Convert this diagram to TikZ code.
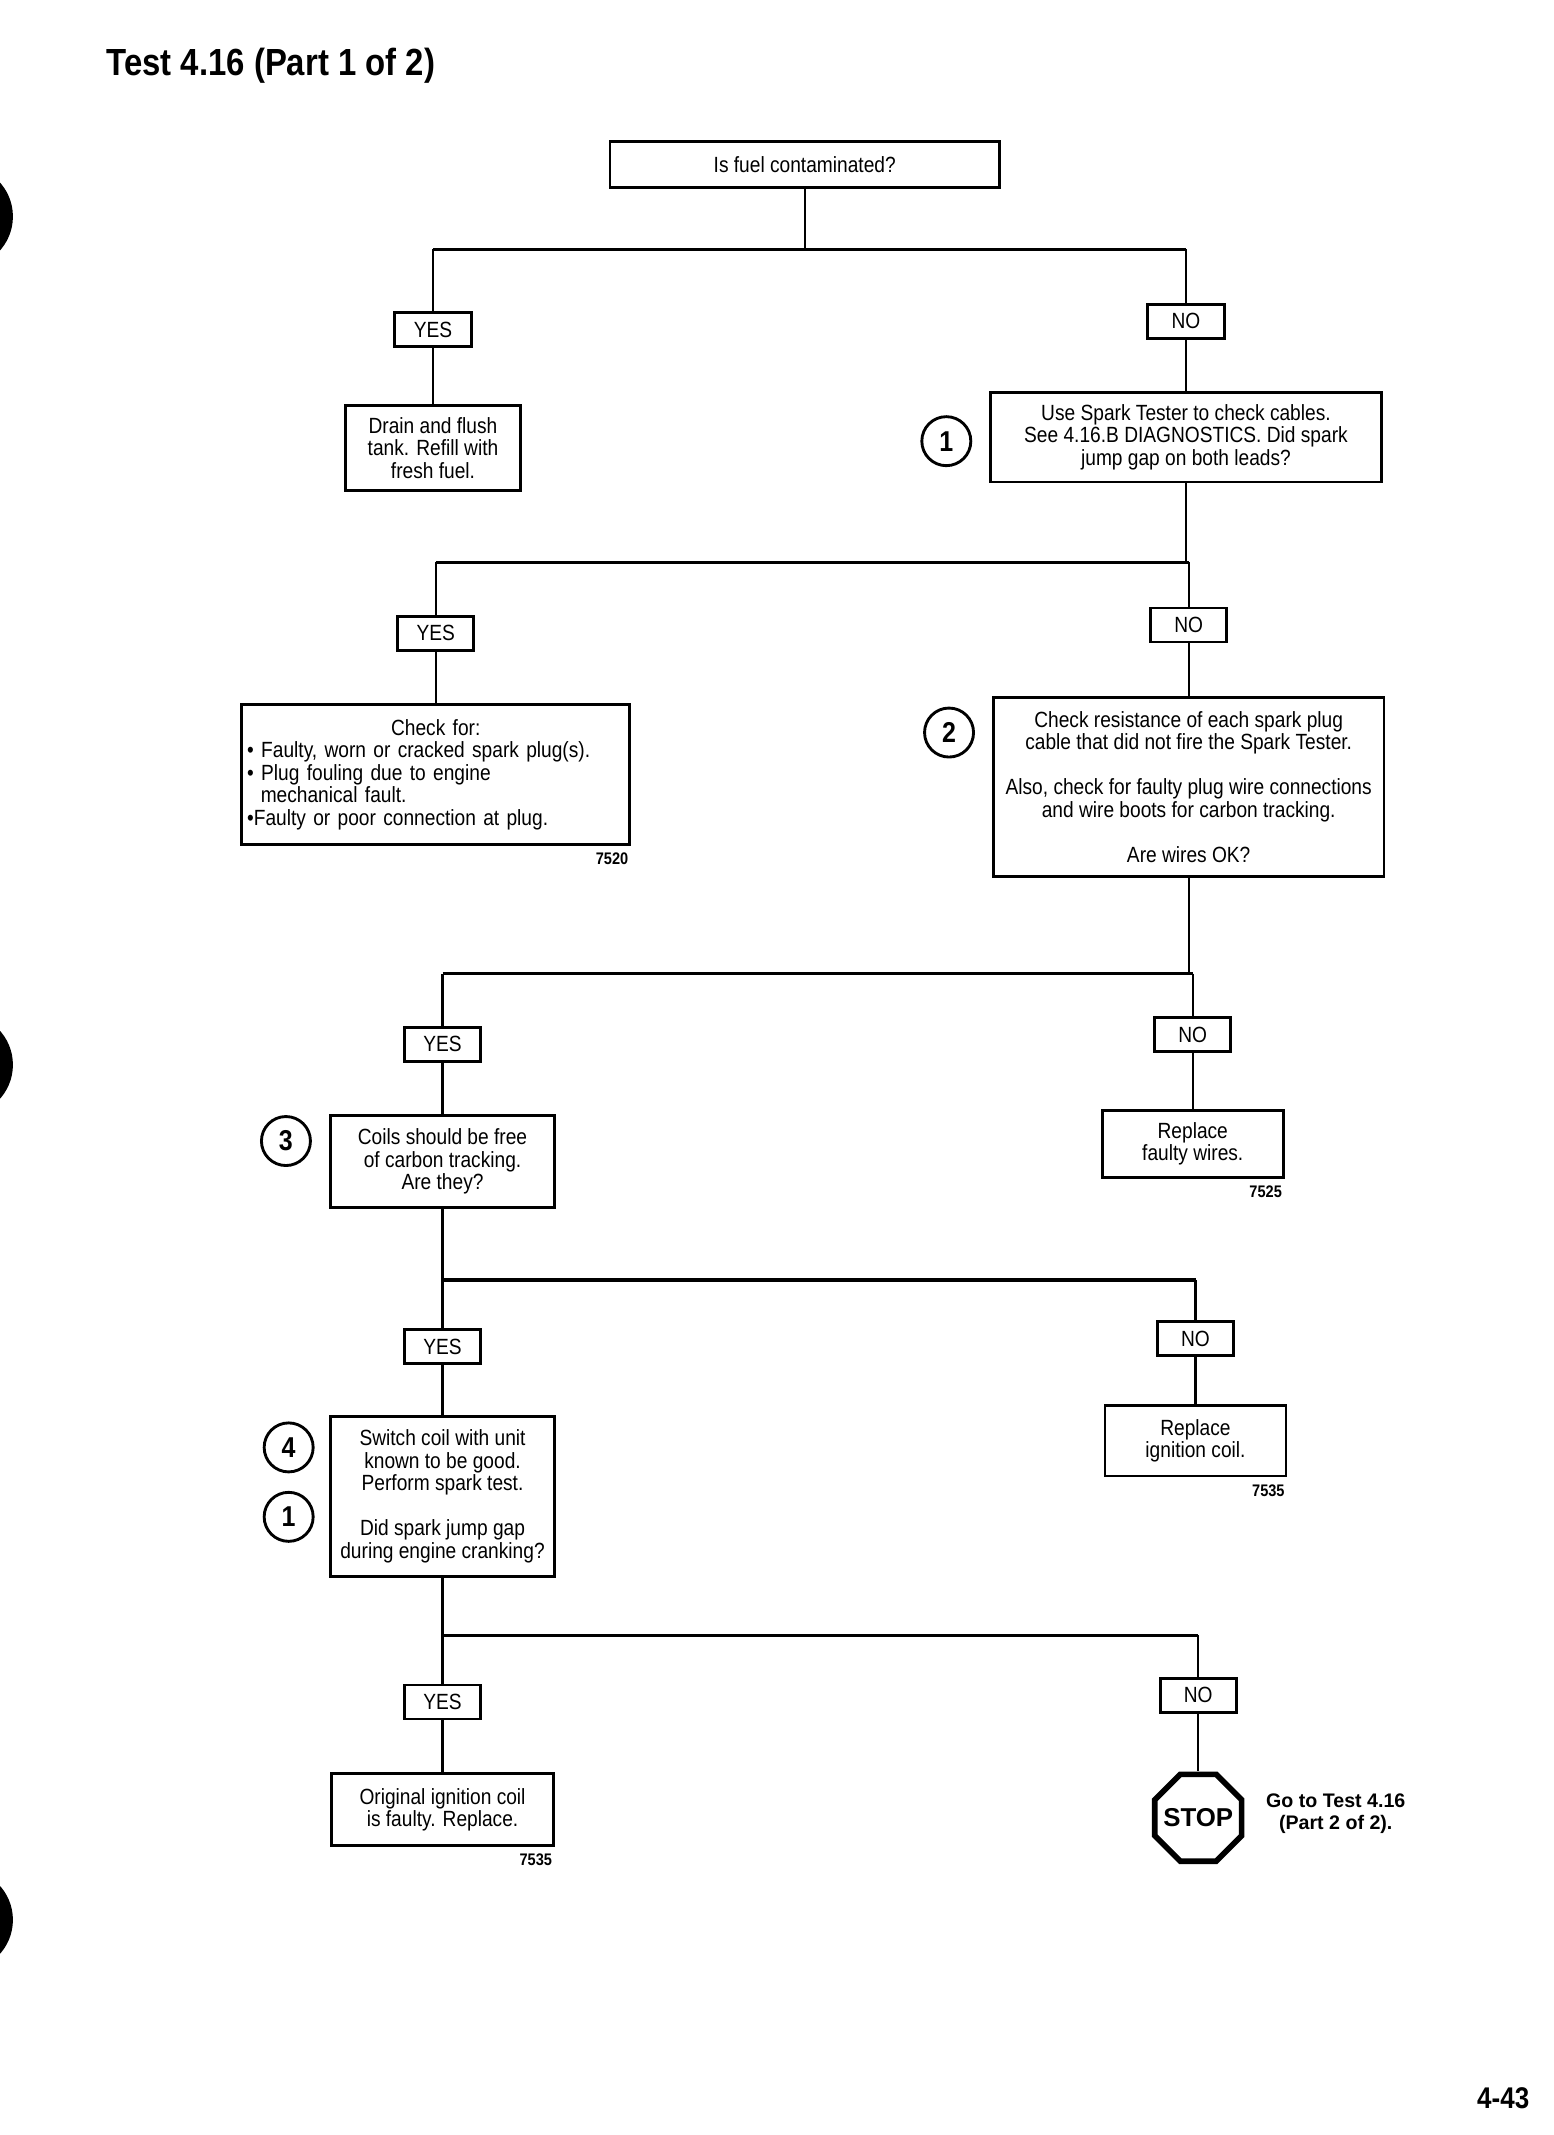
\documentclass[tikz,border=0pt]{standalone}
\usepackage{fontspec}
\setmainfont{Liberation Sans}[FakeStretch=0.87]
\newfontfamily\stopfont{Liberation Sans}
\usetikzlibrary{shapes.geometric}

\begin{document}
\begin{tikzpicture}[x=0.02cm,y=-0.02cm,font=\fontsize{9.2}{9.4}\selectfont,
    box/.style={draw,line width=1.2pt,align=center,inner sep=1pt},
    answer/.style={box,minimum width=1.12cm,minimum height=0.5cm},
    num/.style={circle,draw,line width=1.2pt,minimum size=0.72cm,inner sep=0pt,
      font=\fontsize{12}{12}\selectfont\bfseries},
    tag/.style={anchor=north east,inner sep=1pt,font=\fontsize{7}{7}\selectfont\bfseries},
    stopsign/.style={regular polygon,regular polygon sides=8,draw,line width=2.4pt,
      minimum size=1.38cm,inner sep=0pt},
    link/.style={line width=0.9pt},
    bus/.style={line width=1.4pt}]
        % page frame and the binder holes on the left edge
        \fill[white] (0,0) rectangle (1141,1568);
        \useasboundingbox (0,0) rectangle (1141,1568);
        \begin{scope}
          \clip (0,0) rectangle (1141,1568);
          \foreach \hy in {159,782,1410}
            \fill (-28,\hy) circle (0.75cm);
        \end{scope}
        \node[anchor=west,inner sep=0pt,font=\fontsize{15.8}{16}\selectfont\bfseries] (title) at (78,48) {Test 4.16 (Part 1 of 2)};

        % level 1
        \node[box,minimum width=5.72cm,minimum height=0.68cm] (fuel) at (591,121) {Is fuel contaminated?};
        \coordinate (j1) at (591,183);
        \node[answer] (yes1) at (318,242) {YES};
        \node[answer] (no1) at (871,236) {NO};
        \node[box,minimum width=2.58cm,minimum height=1.26cm] (drain) at (318,329) {Drain and flush\\tank. Refill with\\fresh fuel.};
        \node[box,minimum width=5.74cm,minimum height=1.32cm] (spark) at (871,321) {Use Spark Tester to check cables.\\See 4.16.B DIAGNOSTICS. Did spark\\jump gap on both leads?};
        \node[num] (c1) at (695,324) {1};
        \draw[link] (fuel) -- (j1);
        \draw[bus] (yes1 |- j1) -- (no1 |- j1);
        \draw[link] (yes1 |- j1) -- (yes1);
        \draw[link] (no1 |- j1) -- (no1);
        \draw[link] (yes1) -- (drain);
        \draw[link] (no1) -- (spark);

        % level 2
        \coordinate (j2) at (871,413);
        \node[answer] (yes2) at (320,465) {YES};
        \node[answer] (no2) at (873,459) {NO};
        \node[box,minimum width=5.70cm,minimum height=2.06cm,inner xsep=0.08cm,text width=5.54cm,align=left] (plugs) at (320,569)
          {\makebox[\hsize]{Check for:}\\
           \textbullet\ Faulty, worn or cracked spark plug(s).\\
           \textbullet\ Plug fouling due to engine\\
           \hspace*{0.2cm}mechanical fault.\\
           \textbullet Faulty or poor connection at plug.};
        \node[tag] (t7520) at ([yshift=-0.06cm]plugs.south east) {7520};
        \node[box,minimum width=5.74cm,minimum height=2.64cm] (resist) at (873,578)
          {Check resistance of each spark plug\\cable that did not fire the Spark Tester.\\[9.4pt]
           Also, check for faulty plug wire connections\\and wire boots for carbon tracking.\\[9.4pt]Are wires OK?};
        \node[num] (c2) at (697,538) {2};
        \draw[link] (spark) -- (j2);
        \draw[bus] (yes2 |- j2) -- (no2 |- j2);
        \draw[link] (yes2 |- j2) -- (yes2);
        \draw[link] (no2 |- j2) -- (no2);
        \draw[link] (yes2) -- (plugs);
        \draw[link] (no2) -- (resist);

        % level 3
        \coordinate (j3) at (873,715);
        \node[answer] (yes3) at (325,767) {YES};
        \node[answer] (no3) at (876,760) {NO};
        \node[box,minimum width=3.28cm,minimum height=1.34cm] (carbon) at (325,853) {Coils should be free\\of carbon tracking.\\Are they?};
        \node[num] (c3) at (210,838) {3};
        \node[box,minimum width=2.66cm,minimum height=0.98cm] (wires) at (876,840) {Replace\\faulty wires.};
        \node[tag] (t7525) at ([yshift=-0.06cm]wires.south east) {7525};
        \draw[link] (resist) -- (j3);
        \draw[bus] (yes3 |- j3) -- (no3 |- j3);
        \draw[link] (yes3 |- j3) -- (yes3);
        \draw[link] (no3 |- j3) -- (no3);
        \draw[link] (yes3) -- (carbon);
        \draw[link] (no3) -- (wires);

        % level 4
        \coordinate (j4) at (325,940);
        \node[answer] (yes4) at (325,989) {YES};
        \node[answer] (no4) at (878,983) {NO};
        \node[box,minimum width=3.28cm,minimum height=2.36cm] (swap) at (325,1099)
          {Switch coil with unit\\known to be good.\\Perform spark test.\\[9.4pt]Did spark jump gap\\during engine cranking?};
        \node[num] (c4) at (212,1063) {4};
        \node[num] (c1b) at (212,1114) {1};
        \node[box,minimum width=2.66cm,minimum height=1.04cm] (coil) at (878,1058) {Replace\\ignition coil.};
        \node[tag] (t7535a) at ([yshift=-0.06cm]coil.south east) {7535};
        \draw[link] (carbon) -- (j4);
        \draw[bus] (j4) -- (no4 |- j4);
        \draw[link] (no4 |- j4) -- (no4);
        \draw[link] (j4) -- (yes4);
        \draw[link] (yes4) -- (swap);
        \draw[link] (no4) -- (coil);

        % level 5
        \coordinate (j5) at (325,1201);
        \node[answer] (yes5) at (325,1250) {YES};
        \node[answer] (no5) at (880,1245) {NO};
        \node[box,minimum width=3.26cm,minimum height=1.06cm] (orig) at (325,1329) {Original ignition coil\\is faulty. Replace.};
        \node[tag] (t7535b) at ([yshift=-0.06cm]orig.south east) {7535};
        \node[stopsign,label={[font=\stopfont\fontsize{10.8}{11}\selectfont\bfseries]center:STOP}] (stop) at (880,1335) {};
        \node[align=center,font=\stopfont\fontsize{8.2}{9.1}\selectfont\bfseries] (goto) at (981,1332) {Go to Test 4.16\\(Part 2 of 2).};
        \draw[link] (swap) -- (j5);
        \draw[bus] (j5) -- (no5 |- j5);
        \draw[link] (no5 |- j5) -- (no5);
        \draw[link] (j5) -- (yes5);
        \draw[link] (yes5) -- (orig);
        \draw[link] (no5) -- (stop);

        \node[font=\fontsize{12.5}{13}\selectfont\bfseries] (page) at (1104,1541) {4-43};
      \end{tikzpicture}
\end{document}
